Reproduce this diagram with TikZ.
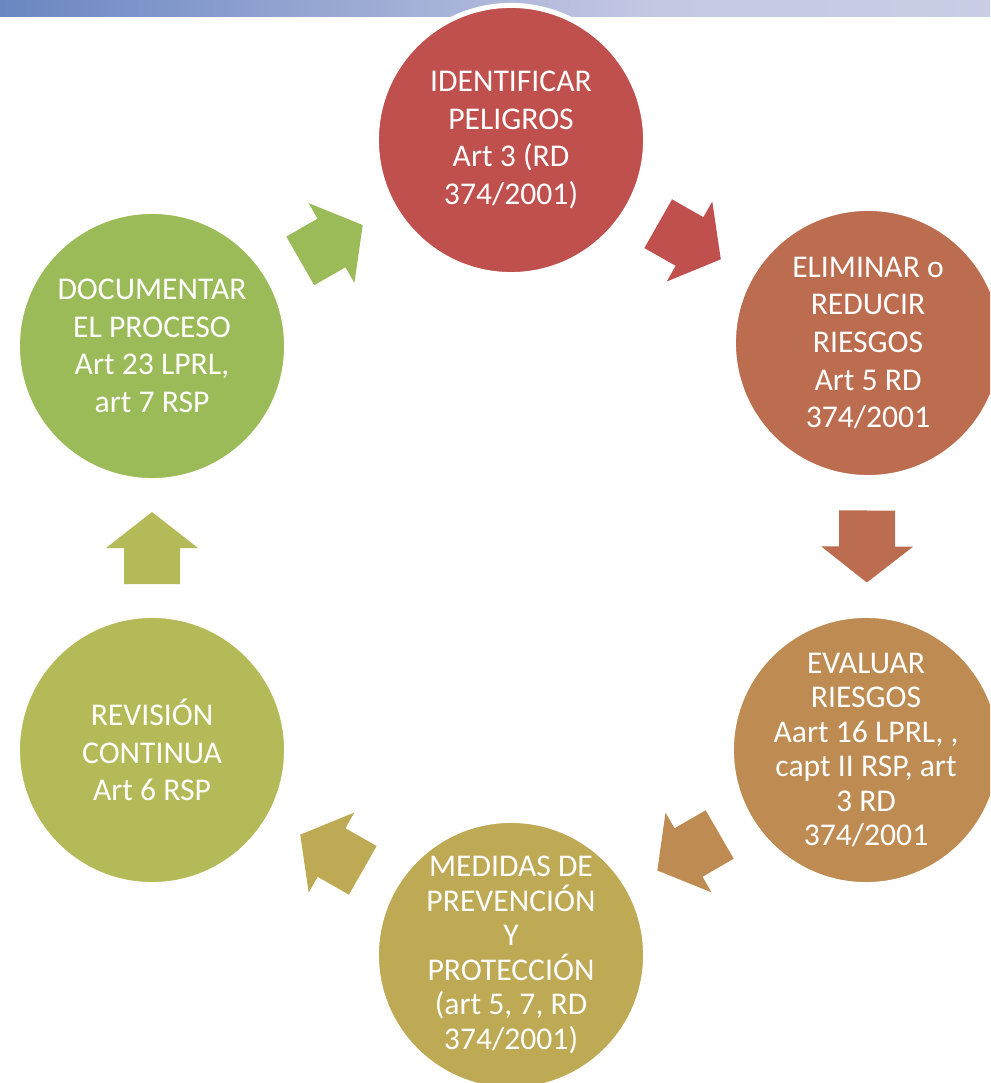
\documentclass[tikz,border=0pt]{standalone}
\usepackage{fontspec}
\setmainfont{Carlito}
\usepackage{xcolor}
\definecolor{barraA}{HTML}{6A87C2}
\definecolor{barraB}{HTML}{C5C8E3}
\definecolor{barraC}{HTML}{CACDE6}
\definecolor{rojo}{HTML}{C0504D}
\definecolor{teja}{HTML}{BC6D4F}
\definecolor{ocre}{HTML}{BE8B53}
\definecolor{mostaza}{HTML}{BEA955}
\definecolor{oliva}{HTML}{B5BA58}
\definecolor{verde}{HTML}{9BBB59}
\usetikzlibrary{calc}

\begin{document}
\begin{tikzpicture}[x=0.01cm, y=-0.01cm,
  every node/.style={text=white, align=center, font=\fontsize{9}{10.7}\selectfont},
  etapa/.style={circle, draw=white, line width=0.05cm, minimum size=2.69cm, inner sep=0pt},
  apretado/.style={font=\fontsize{9}{9.8}\selectfont}]

  \useasboundingbox (0,0) rectangle (990,1083);
  \clip (0,0) rectangle (990,1083);

  % banda superior
  \shade[left color=barraA, right color=barraB] (0,0) rectangle (660,17);
  \shade[left color=barraB, right color=barraC] (660,0) rectangle (990,17);

  % etapas del ciclo
  \node[etapa, fill=rojo] (ident) at (511,140)
    {IDENTIFICAR\\PELIGROS\\Art 3 (RD\\374/2001)};
  \node[etapa, fill=teja] (elim) at (868,343)
    {ELIMINAR o\\REDUCIR\\RIESGOS\\Art 5 RD\\374/2001};
  \node[etapa, fill=ocre, apretado] (evalu) at (866,750)
    {EVALUAR\\RIESGOS\\Aart 16 LPRL, ,\\capt II RSP, art\\3 RD\\374/2001};
  \node[etapa, fill=mostaza, apretado] (medid) at (511,955)
    {MEDIDAS DE\\PREVENCIÓN\\Y\\PROTECCIÓN\\(art 5, 7, RD\\374/2001)};
  \node[etapa, fill=oliva] (revis) at (152,750)
    {REVISIÓN\\CONTINUA\\Art 6 RSP};
  \node[etapa, fill=verde] (docum) at (152,346)
    {DOCUMENTAR\\EL PROCESO\\Art 23 LPRL,\\art 7 RSP};

  % flechas de bloque
  \def\flecha#1#2#3{%
    \pgfmathanglebetweenpoints{\pgfpointanchor{#1}{center}}{\pgfpointanchor{#2}{center}}%
    \let\angflecha\pgfmathresult
    \fill[#3, shift={($(#1)!0.5!(#2)$)}, rotate=\angflecha]
      (-36,-28) -- (0,-28) -- (0,-46) -- (36,0) -- (0,46) -- (0,28) -- (-36,28) -- cycle;
  }
  \flecha{ident}{elim}{rojo}
  \flecha{elim}{evalu}{teja}
  \flecha{evalu}{medid}{ocre}
  \flecha{medid}{revis}{mostaza}
  \flecha{revis}{docum}{oliva}
  \flecha{docum}{ident}{verde}
\end{tikzpicture}
\end{document}
